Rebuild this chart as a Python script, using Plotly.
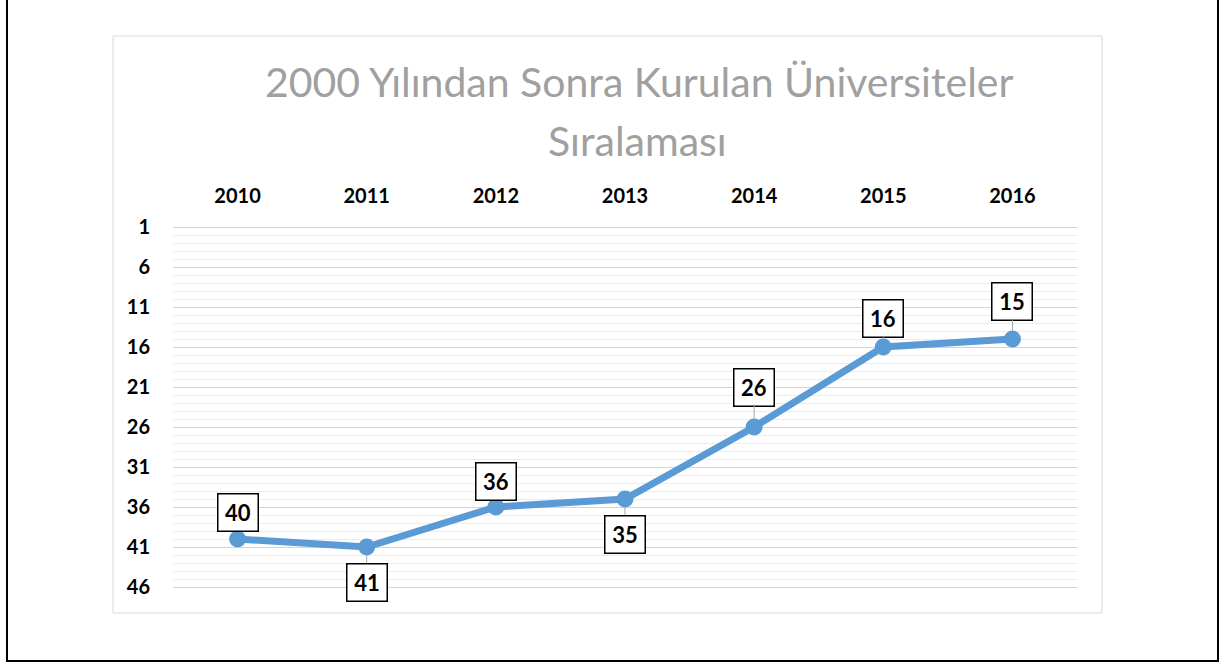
import plotly.graph_objects as go

# ---- data ----
years = ["2010", "2011", "2012", "2013", "2014", "2015", "2016"]
ranks = [40, 41, 36, 35, 26, 16, 15]
y_tick_values = [1, 6, 11, 16, 21, 26, 31, 36, 41, 46]
title_line1 = "2000 Yılından Sonra Kurulan Üniversiteler"
title_line2 = "Sıralaması"

# label placement (pixel offsets of the data-label boxes, layout only)
label_offsets = [-27, 35, -26, 35, -40, -29, -38]

W, H = 1226, 666
L, R, T, B = 173, 1077, 225, 589
pw, ph = R - L, B - T


def px_x(p):
    return (p - L) / pw


def px_y(p):
    return (B - p) / ph


BLUE = "#5B9BD5"
FONT = "Lato"

fig = go.Figure()
fig.add_trace(go.Scatter(
    x=years, y=ranks, mode="lines+markers",
    line=dict(color=BLUE, width=7),
    marker=dict(color=BLUE, size=17),
    hoverinfo="x+y", showlegend=False,
))

annotations = []
for i, (yr, v, off) in enumerate(zip(years, ranks, label_offsets)):
    annotations.append(dict(
        x=i, y=v, xref="x", yref="y",
        text=f"<b>{v}</b>",
        showarrow=True, arrowhead=0, arrowwidth=1, arrowcolor="#a6a6a6",
        ax=0, ay=off, standoff=8,
        font=dict(family=FONT, size=22, color="#000000"),
        bgcolor="#ffffff", bordercolor="#000000", borderwidth=1.5,
        borderpad=2, width=35, height=32,
    ))

annotations.append(dict(
    x=px_x(639), y=px_y(81), xref="paper", yref="paper",
    text=title_line1, showarrow=False, xanchor="center", yanchor="middle",
    font=dict(family=FONT, size=41, color="#a0a0a0"),
))
annotations.append(dict(
    x=px_x(637), y=px_y(141), xref="paper", yref="paper",
    text=title_line2, showarrow=False, xanchor="center", yanchor="middle",
    font=dict(family=FONT, size=41, color="#a0a0a0"),
))

shapes = [
    # outer black frame
    dict(type="rect", xref="paper", yref="paper",
         x0=px_x(7), x1=px_x(1218), y0=px_y(661), y1=px_y(-10),
         line=dict(color="#000000", width=2), fillcolor="rgba(0,0,0,0)", layer="below"),
    # inner chart frame
    dict(type="rect", xref="paper", yref="paper",
         x0=px_x(113), x1=px_x(1102), y0=px_y(613), y1=px_y(36),
         line=dict(color="#d9d9d9", width=1), fillcolor="rgba(0,0,0,0)", layer="below"),
]

fig.update_layout(
    width=W, height=H,
    margin=dict(l=L, r=W - R, t=T, b=H - B, pad=0),
    paper_bgcolor="#ffffff", plot_bgcolor="#ffffff",
    annotations=annotations, shapes=shapes,
    xaxis=dict(
        type="category", side="top", range=[-0.5, 6.5],
        showgrid=False, zeroline=False, showline=False,
        ticks="outside", ticklen=13, tickcolor="rgba(0,0,0,0)",
        tickfont=dict(family=FONT, size=20, color="#000000"),
        tickprefix="<b>", ticksuffix="</b>",
        fixedrange=True,
    ),
    yaxis=dict(
        range=[46.25, 0.75], tickmode="array", tickvals=y_tick_values,
        ticktext=[f"<b>{v}</b>" for v in y_tick_values],
        showgrid=True, gridcolor="#d4d4d4", gridwidth=1,
        minor=dict(tickmode="linear", tick0=1, dtick=1, showgrid=True,
                   gridcolor="#ececec", gridwidth=1),
        zeroline=False, showline=False,
        ticks="outside", ticklen=18, tickcolor="rgba(0,0,0,0)",
        tickfont=dict(family=FONT, size=20, color="#000000"),
        fixedrange=True,
    ),
)

fig.write_html(
    "out.html",
    config={"displayModeBar": False},
    post_script="document.body.style.margin='0px';document.body.style.overflow='hidden';",
)
